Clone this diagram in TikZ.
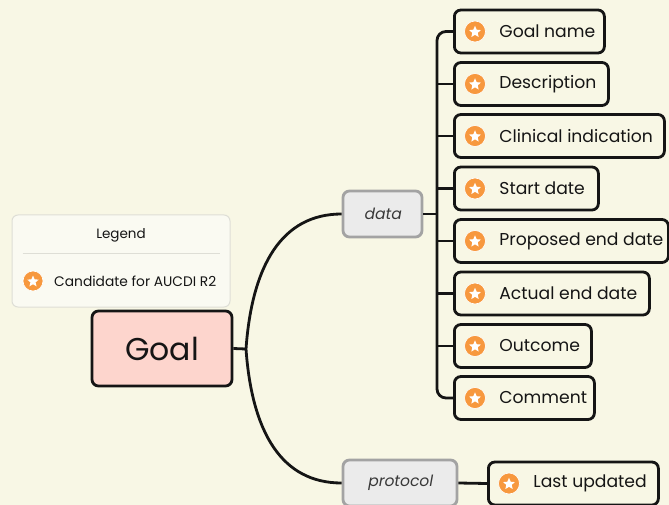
\documentclass[tikz,border=0pt]{standalone}
\usepackage{fontspec}
\setmainfont{Poppins}
\newfontfamily\itpop[FakeSlant=0.18]{Poppins}
\usetikzlibrary{shapes.geometric}
\definecolor{bgc}{HTML}{F8F7E5}
\definecolor{legfill}{HTML}{FAFAF2}
\definecolor{legline}{HTML}{DEDED6}
\definecolor{goalfill}{HTML}{FDD5CD}
\definecolor{grayfill}{HTML}{EBEBEB}
\definecolor{grayline}{HTML}{A3A3A3}
\definecolor{ink}{HTML}{151515}
\definecolor{orng}{HTML}{F7983E}
\tikzset{
  conn/.style={draw=ink, line width=2.8pt},
  leafbox/.style={draw=ink, line width=2.8pt, fill=bgc, rounded corners=6.5pt, anchor=west, minimum height=43pt, inner sep=0pt, font=\fontsize{17.2}{20}\selectfont, text=ink},
  subbox/.style={draw=grayline, line width=2.8pt, fill=grayfill, rounded corners=6.5pt, minimum height=46pt, inner sep=0pt, font=\fontsize{15.5}{17}\selectfont\itpop, text=ink!85},
  icon/.style={circle, fill=orng, draw=white, line width=0.6pt, minimum size=21pt, inner sep=0pt},
  wstar/.style={star, star points=5, star point ratio=2.2, fill=white, minimum size=12.5pt, inner sep=0pt},
}
\newcommand{\leaf}[5]{%
  \node[leafbox, minimum width=#4pt] (#1) at (#2,#3) {\makebox[#4pt][l]{\hspace{45pt}#5}};
  \node[icon] (#1i) at ([xshift=22pt]#1.west) {};
  \node[wstar] (#1s) at ([yshift=-0.5pt]#1i.center) {};
}
\begin{document}
\begin{tikzpicture}[x=1pt,y=-1pt]
\useasboundingbox (0,0) rectangle (669,505);
\fill[bgc] (0,0) rectangle (669,505);

% legend
\node[draw=legline, line width=1pt, fill=legfill, rounded corners=6pt, minimum width=218pt, minimum height=92pt] (legend) at (121,261) {};
\node[font=\fontsize{13.5}{15}\selectfont, text=ink] (legt) at (121,235) {Legend};
\draw[legline, line width=1pt] ([xshift=11pt]legend.west |- 0,253) coordinate (l1) -- ([xshift=-11pt]legend.east |- 0,253) coordinate (l2);
\node[icon, minimum size=20pt] (legi) at (33,281) {};
\node[wstar, minimum size=12pt] (legs) at ([yshift=-0.5pt]legi.center) {};
\node[font=\fontsize{13.8}{15}\selectfont, text=ink, anchor=west, inner sep=0pt] (legc) at (54,281) {Candidate for AUCDI R2};

% main
\node[draw=ink, line width=2.8pt, fill=goalfill, rounded corners=6.5pt, minimum width=140pt, minimum height=75pt, font=\fontsize{31.5}{34}\selectfont, text=ink] (goal) at (162,348.5) {Goal};
\node[subbox, minimum width=79pt] (data) at (382.5,214) {data};
\node[subbox, minimum width=114pt] (prot) at (400,483) {protocol};

\coordinate (gj) at (246,349);
\draw[conn] (goal.east) -- (gj);
\draw[conn] (gj) .. controls (252,265) and (282,214) .. (data.west);
\draw[conn] (gj) .. controls (252,433) and (282,483) .. (prot.west);

% leaves
\leaf{gn}{453}{31.5}{150}{Goal name}
\leaf{ds}{453}{84}{154}{Description}
\leaf{ci}{453}{136}{210}{Clinical indication}
\leaf{sd}{453}{188.5}{144}{Start date}
\leaf{pe}{453}{241}{214}{Proposed end date}
\leaf{ae}{453}{293.5}{195}{Actual end date}
\leaf{oc}{453}{346}{137}{Outcome}
\leaf{cm}{453}{398}{140}{Comment}
\leaf{lu}{487}{483.5}{170}{Last updated}

\coordinate (bus) at (437,214);
\draw[conn] (data.east) -- (bus);
\draw[conn, rounded corners=9pt] (gn.west) -| (bus) |- (cm.west);
\foreach \n in {ds,ci,sd,pe,ae,oc} {\draw[conn] (\n.west) -- (\n.west -| bus);}
\draw[conn] (prot.east) -- (lu.west);
\end{tikzpicture}
\end{document}
